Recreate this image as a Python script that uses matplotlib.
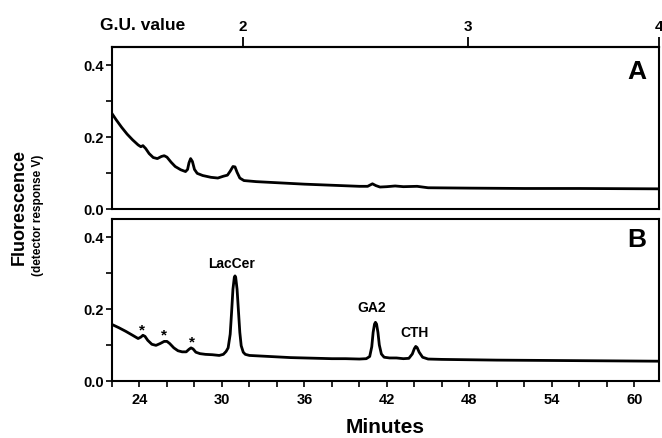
import matplotlib
matplotlib.use("Agg")
import matplotlib.pyplot as plt
from matplotlib.ticker import MultipleLocator

plt.rcParams['font.family'] = ['Liberation Sans', 'DejaVu Sans']
plt.rcParams['font.weight'] = 'bold'

# ---- data ----
time_a = [22.0, 22.3, 22.7, 23.1, 23.5, 23.9, 24.1, 24.25, 24.45, 24.7, 25.0, 25.3, 25.6, 25.8,
          26.0, 26.3, 26.6, 27.0, 27.35, 27.5, 27.6, 27.72, 27.85, 28.0, 28.2, 28.6, 29.2, 29.7,
          30.1, 30.4, 30.6, 30.8, 30.95, 31.1, 31.3, 31.6, 32.5, 34.0, 36.0, 38.0, 40.0, 40.6,
          40.95, 41.2, 41.5, 42.0, 42.6, 43.2, 44.2, 45.0, 48.0, 52.0, 56.0, 61.8]
signal_a = [0.265, 0.248, 0.227, 0.208, 0.192, 0.178, 0.173, 0.176, 0.168, 0.154, 0.143, 0.140,
            0.146, 0.148, 0.144, 0.130, 0.118, 0.109, 0.104, 0.110, 0.128, 0.140, 0.132, 0.110,
            0.099, 0.093, 0.088, 0.086, 0.091, 0.094, 0.105, 0.118, 0.117, 0.102, 0.086, 0.079,
            0.076, 0.073, 0.069, 0.066, 0.063, 0.063, 0.070, 0.065, 0.061, 0.062, 0.064, 0.062,
            0.063, 0.059, 0.058, 0.057, 0.057, 0.056]

time_b = [22.0, 22.5, 23.0, 23.5, 23.9, 24.1, 24.25, 24.4, 24.6, 24.9, 25.2, 25.5, 25.8, 26.0,
          26.2, 26.5, 26.8, 27.1, 27.4, 27.6, 27.75, 27.9, 28.1, 28.4, 28.8, 29.3, 29.8, 30.1,
          30.3, 30.45, 30.6, 30.7, 30.8, 30.9, 30.95, 31.0, 31.1, 31.2, 31.3, 31.4, 31.55, 31.7,
          32.0, 33.0, 34.0, 35.0, 36.0, 37.0, 38.0, 39.0, 40.0, 40.5, 40.75, 40.9, 41.0, 41.1,
          41.17, 41.25, 41.35, 41.45, 41.6, 41.8, 42.2, 42.7, 43.2, 43.6, 43.85, 44.0, 44.1,
          44.2, 44.35, 44.6, 45.0, 46.0, 48.0, 50.0, 54.0, 58.0, 61.8]
signal_b = [0.157, 0.148, 0.138, 0.127, 0.118, 0.122, 0.127, 0.124, 0.113, 0.102, 0.099, 0.104,
            0.110, 0.110, 0.104, 0.092, 0.084, 0.081, 0.081, 0.088, 0.092, 0.089, 0.080, 0.076,
            0.074, 0.073, 0.071, 0.074, 0.082, 0.092, 0.130, 0.190, 0.255, 0.288, 0.292, 0.288,
            0.255, 0.195, 0.135, 0.098, 0.080, 0.074, 0.071, 0.069, 0.067, 0.065, 0.064, 0.063,
            0.062, 0.062, 0.061, 0.062, 0.068, 0.095, 0.135, 0.158, 0.163, 0.158, 0.135, 0.100,
            0.075, 0.066, 0.064, 0.064, 0.062, 0.063, 0.075, 0.090, 0.096, 0.093, 0.080, 0.066,
            0.061, 0.060, 0.059, 0.058, 0.057, 0.056, 0.055]

gu_minutes = [31.5, 47.9, 61.8]
gu_labels = ['2', '3', '4']

x_ticks = [24, 30, 36, 42, 48, 54, 60]
y_ticks = [0.0, 0.2, 0.4]

peak_labels = ['LacCer', 'GA2', 'CTH']
peak_x = [30.7, 40.9, 44.0]
peak_y = [0.328, 0.205, 0.135]
star_x = [24.2, 25.8, 27.8]
star_y = [0.142, 0.129, 0.110]

# ---- figure ----
W, H = 662, 439
fig = plt.figure(figsize=(W / 100, H / 100), dpi=100)

def frac(l, t, r, b):
    return [l / W, 1 - b / H, (r - l) / W, (b - t) / H]

axA = fig.add_axes(frac(112, 48, 659, 210))
axB = fig.add_axes(frac(112, 220, 659, 382))

for ax in (axA, axB):
    ax.set_xlim(22, 61.8)
    ax.set_ylim(0, 0.45)
    for s in ax.spines.values():
        s.set_linewidth(1.5)
    ax.set_yticks(y_ticks)
    ax.set_yticklabels(['%.1f' % v for v in y_ticks], fontsize=10.5, fontweight='bold')
    ax.yaxis.set_minor_locator(MultipleLocator(0.1))
    ax.tick_params(axis='y', which='both', direction='out', length=4, width=1.2, pad=2)

axA.plot(time_a, signal_a, color='black', lw=2.0)
axB.plot(time_b, signal_b, color='black', lw=2.0)

axA.set_xticks([])
axA.tick_params(axis='x', which='both', bottom=False, labelbottom=False)

axB.set_xticks(x_ticks)
axB.set_xticklabels([str(v) for v in x_ticks], fontsize=10.5, fontweight='bold')
axB.xaxis.set_minor_locator(MultipleLocator(2))
axB.tick_params(axis='x', which='both', direction='out', length=4, width=1.2, pad=4)

# G.U. top axis
top = axA.twiny()
top.set_xlim(axA.get_xlim())
top.set_xticks(gu_minutes)
top.set_xticklabels(gu_labels, fontsize=11, fontweight='bold')
top.tick_params(axis='x', direction='out', length=7, width=1.3, pad=3)
for s in ['left', 'right', 'bottom']:
    top.spines[s].set_visible(False)
top.spines['top'].set_linewidth(1.5)
fig.text((98 + 187) / 2 / W, 1 - 26 / H, 'G.U. value', fontsize=12.5, fontweight='bold',
         ha='center', va='center')

axA.text(0.96, 0.85, 'A', transform=axA.transAxes, fontsize=19, fontweight='bold',
         ha='center', va='center')
axB.text(0.96, 0.875, 'B', transform=axB.transAxes, fontsize=19, fontweight='bold',
         ha='center', va='center')

for lab, px, py in zip(peak_labels, peak_x, peak_y):
    axB.text(px, py, lab, fontsize=10, fontweight='bold', ha='center', va='center')
for sx, sy in zip(star_x, star_y):
    axB.text(sx, sy, '*', fontsize=11, fontweight='bold', ha='center', va='center')

fig.text(385 / W, 1 - 428 / H, 'Minutes', fontsize=15, fontweight='bold', ha='center', va='center')
fig.text(19 / W, 1 - 207 / H, 'Fluorescence', fontsize=13, fontweight='bold', rotation=90,
         ha='center', va='center')
fig.text(38 / W, 1 - 215 / H, '(detector response V)', fontsize=8.5, fontweight='bold',
         rotation=90, ha='center', va='center')

fig.savefig('out.png', dpi=100)
